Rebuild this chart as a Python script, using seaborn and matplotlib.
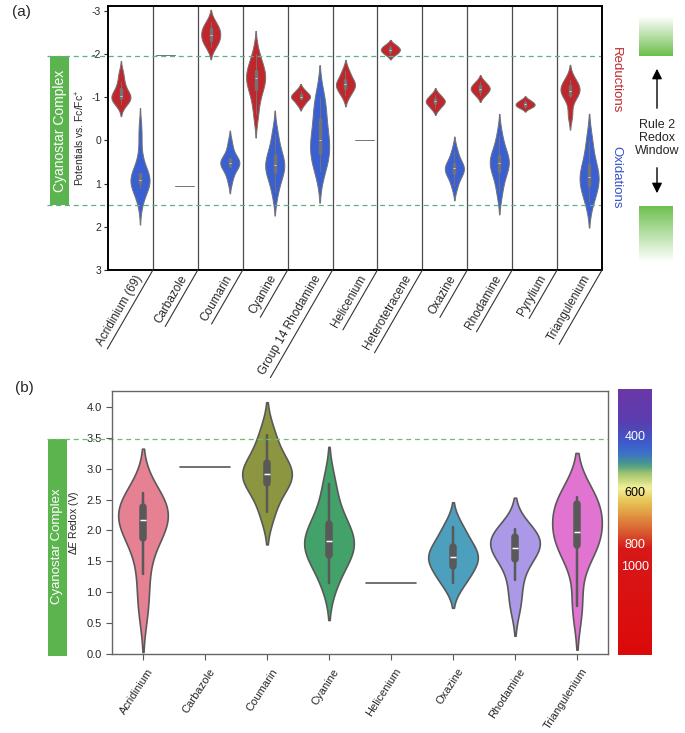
import numpy as np
import pandas as pd
import seaborn as sns
import matplotlib.pyplot as plt
from matplotlib.colors import LinearSegmentedColormap
from matplotlib.transforms import blended_transform_factory, ScaledTranslation
from matplotlib.patches import Rectangle, FancyArrowPatch
from matplotlib.textpath import TextPath
from matplotlib.font_manager import FontProperties

# panel (a): redox potentials (V vs Fc/Fc+) per dye family
families_a = ["Acridinium (69)", "Carbazole", "Coumarin", "Cyanine", "Group 14 Rhodamine",
              "Helicenium", "Heterotetracene", "Oxazine", "Rhodamine", "Pyrylium", "Triangulenium"]

reductions = {
    "Acridinium (69)": [-1.55, -1.35, -1.2, -1.08, -1.02, -1.0, -0.97, -0.92, -0.85],
    "Carbazole": [-1.98],
    "Coumarin": [-2.75, -2.6, -2.55, -2.45, -2.35, -2.3, -2.15],
    "Cyanine": [-2.0, -1.75, -1.6, -1.5, -1.45, -1.35, -1.2, -1.0, -0.6],
    "Group 14 Rhodamine": [-1.15, -1.05, -1.0, -0.98, -0.85],
    "Helicenium": [-1.6, -1.42, -1.32, -1.27, -1.2, -1.05],
    "Heterotetracene": [-2.2, -2.12, -2.08, -2.0],
    "Oxazine": [-1.05, -0.95, -0.9, -0.86, -0.75],
    "Rhodamine": [-1.35, -1.25, -1.2, -1.15, -1.05],
    "Pyrylium": [-0.93, -0.87, -0.84, -0.8, -0.76],
    "Triangulenium": [-1.4, -1.3, -1.2, -1.15, -1.1, -1.0, -0.6],
}

oxidations = {
    "Acridinium (69)": [-0.2, 0.4, 0.75, 0.85, 0.9, 0.92, 0.95, 1.0, 1.1, 1.4],
    "Carbazole": [1.05],
    "Coumarin": [0.1, 0.4, 0.48, 0.52, 0.56, 0.62, 0.9],
    "Cyanine": [-0.15, 0.2, 0.4, 0.55, 0.6, 0.7, 0.85, 1.2],
    "Group 14 Rhodamine": [-1.0, -0.8, -0.5, -0.2, 0.0, 0.15, 0.3, 0.45, 0.7],
    "Helicenium": [0.0],
    "Oxazine": [0.25, 0.5, 0.6, 0.65, 0.72, 0.8, 1.05],
    "Rhodamine": [-0.1, 0.25, 0.4, 0.48, 0.55, 0.65, 0.85, 1.2],
    "Triangulenium": [0.0, 0.45, 0.7, 0.85, 0.95, 1.1, 1.4],
}

# panel (b): electrochemical window per family
families_b = ["Acridinium", "Carbazole", "Coumarin", "Cyanine", "Helicenium",
              "Oxazine", "Rhodamine", "Triangulenium"]

delta_e = {
    "Acridinium": [0.75, 1.3, 1.85, 1.95, 2.1, 2.22, 2.3, 2.4, 2.47, 2.6],
    "Carbazole": [3.03],
    "Coumarin": [2.3, 2.72, 2.8, 2.92, 3.0, 3.18, 3.55],
    "Cyanine": [1.15, 1.5, 1.6, 1.75, 1.82, 1.9, 2.1, 2.3, 2.75],
    "Helicenium": [1.14],
    "Oxazine": [1.15, 1.33, 1.5, 1.57, 1.65, 1.82, 2.05],
    "Rhodamine": [0.8, 1.19, 1.53, 1.65, 1.71, 1.8, 1.89, 1.95, 2.02],
    "Triangulenium": [0.78, 1.6, 1.76, 1.9, 1.97, 2.2, 2.42, 2.5, 2.54],
}

window_top, window_bottom = -1.95, 1.5   # cyanostar complex window (a)
window_width = 3.48                      # same window as a ΔE (b)

wavelength_labels = ["400", "600", "800", "1000"]

rows = []
for fam in families_a:
    for v in reductions.get(fam, []):
        rows.append((fam, "Reduction", v))
    for v in oxidations.get(fam, []):
        rows.append((fam, "Oxidation", v))
df_a = pd.DataFrame(rows, columns=["family", "process", "potential"])

df_b = pd.DataFrame([(f, v) for f in families_b for v in delta_e[f]],
                    columns=["family", "dE"])

sns.set_style("ticks")
plt.rcParams["font.family"] = ["Liberation Sans", "DejaVu Sans"]
plt.rcParams["axes.unicode_minus"] = False
plt.rcParams["mathtext.fontset"] = "custom"
plt.rcParams["mathtext.rm"] = "Liberation Sans"
plt.rcParams["mathtext.it"] = "Liberation Sans:italic"

W, H = 685, 733
fig = plt.figure(figsize=(W / 100, H / 100), dpi=100)


def fx(px):
    return px / W


def fy(py):
    return 1 - py / H


green = "#5cb44e"
red = "#c0262c"
blue = "#3a5fd0"

# ---------------- panel (a)
ax1 = fig.add_axes([fx(108), fy(270), fx(602) - fx(108), fy(6) - fy(270)])
sns.violinplot(data=df_a, x="family", y="potential", hue="process", order=families_a,
               hue_order=["Reduction", "Oxidation"], palette={"Reduction": red, "Oxidation": blue},
               density_norm="width", width=0.85, saturation=1, linewidth=0.7, linecolor="0.45",
               inner="box", inner_kws=dict(box_width=2.5, whis_width=0.7),
               legend=False, ax=ax1)
ax1.set_ylim(3, -3.11)
ax1.set_xlim(-0.5, len(families_a) - 0.5)
ax1.set_yticks([-3, -2, -1, 0, 1, 2, 3])
ax1.tick_params(axis="y", labelsize=7.5, length=3, width=0.8, pad=2)
ax1.set_xlabel("")
ax1.set_ylabel("Potentials vs. Fc/Fc$^{+}$", fontsize=7.5)
ax1.yaxis.set_label_coords(-0.042, 0.5)
for s in ax1.spines.values():
    s.set_color("black")
    s.set_linewidth(1.4)
for i in range(len(families_a) - 1):
    ax1.axvline(i + 0.5, color="0.3", lw=0.9)

tr1 = blended_transform_factory(ax1.transAxes, ax1.transData)
for yv in (window_top, window_bottom):
    ax1.plot([-0.123, 1.0], [yv, yv], transform=tr1, ls=(0, (4, 3)), lw=0.9,
             color="#5fae90", clip_on=False)
ax1.add_patch(Rectangle((-0.117, window_top), 0.038, window_bottom - window_top,
                        transform=tr1, color=green, clip_on=False, lw=0))
ax1.text(-0.097, (window_top + window_bottom) / 2, "Cyanostar Complex", transform=tr1,
         rotation=90, ha="center", va="center", color="white", fontsize=10)

# slanted labels with underline strokes
lab_fs = 8.5
ax1.tick_params(axis="x", length=0, pad=0, labelsize=lab_fs)
ax1.set_xticks(range(len(families_a)))
ax1.set_xticklabels(families_a)
shift = ScaledTranslation(0.087, -0.06, fig.dpi_scale_trans)
for lbl in ax1.get_xticklabels():
    lbl.set_rotation(60)
    lbl.set_ha("right")
    lbl.set_va("center")
    lbl.set_rotation_mode("anchor")
    lbl.set_transform(lbl.get_transform() + shift)
fp = FontProperties(family="Liberation Sans")
trb = blended_transform_factory(ax1.transData, ax1.transAxes)
for i, fam in enumerate(families_a):
    w = TextPath((0, 0), fam, size=lab_fs, prop=fp).get_extents().width
    L = w + 9
    ax1.annotate("", xy=(i + 0.5, 0), xycoords=trb,
                 xytext=(-L * np.cos(np.radians(60)), -L * np.sin(np.radians(60))),
                 textcoords="offset points", annotation_clip=False,
                 arrowprops=dict(arrowstyle="-", color="0.2", lw=0.8, shrinkA=0, shrinkB=0))

# ---------------- panel (b)
ax2 = fig.add_axes([fx(112), fy(654), fx(608) - fx(112), fy(391) - fy(654)])
sns.violinplot(data=df_b, x="family", y="dE", hue="family", order=families_b,
               hue_order=families_b, palette=sns.color_palette("husl", 8),
               density_norm="width", width=0.8, linewidth=1.2, linecolor="0.35",
               legend=False, ax=ax2)
ax2.set_ylim(-0.005, 4.26)
ax2.set_xlim(-0.5, len(families_b) - 0.5)
ax2.set_yticks(np.arange(0, 4.01, 0.5))
ax2.set_yticklabels([f"{v:.1f}" for v in np.arange(0, 4.01, 0.5)])
ax2.tick_params(axis="y", labelsize=8, length=4, width=0.8, color="0.35")
ax2.tick_params(axis="x", labelsize=8, length=4, width=0.8, color="0.35", pad=7)
ax2.set_xlabel("")
ax2.set_ylabel("Δ$\\mathit{E}$ Redox (V)", fontsize=7.5)
ax2.yaxis.set_label_coords(-0.062, 0.5)
for s in ax2.spines.values():
    s.set_color("0.4")
    s.set_linewidth(1.0)
shift2 = ScaledTranslation(0.08, 0, fig.dpi_scale_trans)
for lbl in ax2.get_xticklabels():
    lbl.set_rotation(57)
    lbl.set_ha("right")
    lbl.set_va("center")
    lbl.set_rotation_mode("anchor")
    lbl.set_transform(lbl.get_transform() + shift2)

tr2 = blended_transform_factory(ax2.transAxes, ax2.transData)
ax2.plot([-0.131, 1.0], [window_width, window_width], transform=tr2, ls=(0, (4, 3)),
         lw=0.9, color="#6cbf6c", clip_on=False)
ax2.add_patch(Rectangle((-0.129, -0.03), 0.038, window_width + 0.03, transform=tr2,
                        color=green, clip_on=False, lw=0))
ax2.text(-0.110, window_width / 2, "Cyanostar Complex", transform=tr2, rotation=90,
         ha="center", va="center", color="white", fontsize=9.5)

# ---------------- side decorations
fig.text(fx(12), fy(12), "(a)", fontsize=11, ha="left", va="center")
fig.text(fx(15), fy(388), "(b)", fontsize=11, ha="left", va="center")
fig.text(fx(616), fy(80), "Reductions", color="#c0262c", rotation=270, fontsize=9.5,
         ha="center", va="center")
fig.text(fx(616), fy(177), "Oxidations", color="#3553c8", rotation=270, fontsize=9.5,
         ha="center", va="center")
fig.text(fx(657), fy(138), "Rule 2\nRedox\nWindow", fontsize=9, ha="center", va="center",
         linespacing=1.15)
fig.patches.append(FancyArrowPatch(
    (fx(657), fy(111)), (fx(657), fy(66)), transform=fig.transFigure,
    arrowstyle="-|>,head_width=3,head_length=6", color="black", lw=1))
fig.patches.append(FancyArrowPatch(
    (fx(657), fy(165)), (fx(657), fy(196)), transform=fig.transFigure,
    arrowstyle="-|>,head_width=3,head_length=6", color="black", lw=1))

fade = LinearSegmentedColormap.from_list("fade", ["white", "#6cbf4c"])
grad = np.linspace(0, 1, 100).reshape(-1, 1)
gax1 = fig.add_axes([fx(639), fy(56), fx(673) - fx(639), fy(16) - fy(56)])
gax1.imshow(grad, cmap=fade, aspect="auto", origin="upper")
gax1.axis("off")
gax2 = fig.add_axes([fx(639), fy(262), fx(673) - fx(639), fy(206) - fy(262)])
gax2.imshow(grad[::-1], cmap=fade, aspect="auto", origin="upper")
gax2.axis("off")

spectrum = LinearSegmentedColormap.from_list("spectrum", [
    (0.0, "#6a38a8"), (0.12, "#5a3eb0"), (0.2, "#3d5ccc"), (0.24, "#3c72c8"),
    (0.28, "#4a9a8a"), (0.32, "#a8c870"), (0.37, "#f4f09a"), (0.42, "#e8c658"),
    (0.48, "#e09040"), (0.54, "#d85a30"), (0.6, "#d81818"), (1.0, "#dc0a0a")])
cax = fig.add_axes([fx(618), fy(655), fx(652) - fx(618), fy(389) - fy(655)])
cax.imshow(grad, cmap=spectrum, aspect="auto", origin="upper")
cax.axis("off")
for lab, yfrac, col in zip(wavelength_labels, [0.82, 0.61, 0.413, 0.33],
                           ["white", "black", "white", "white"]):
    cax.text(0.5, yfrac, lab, transform=cax.transAxes, ha="center", va="center",
             color=col, fontsize=9)

fig.savefig("out.png", dpi=100)
